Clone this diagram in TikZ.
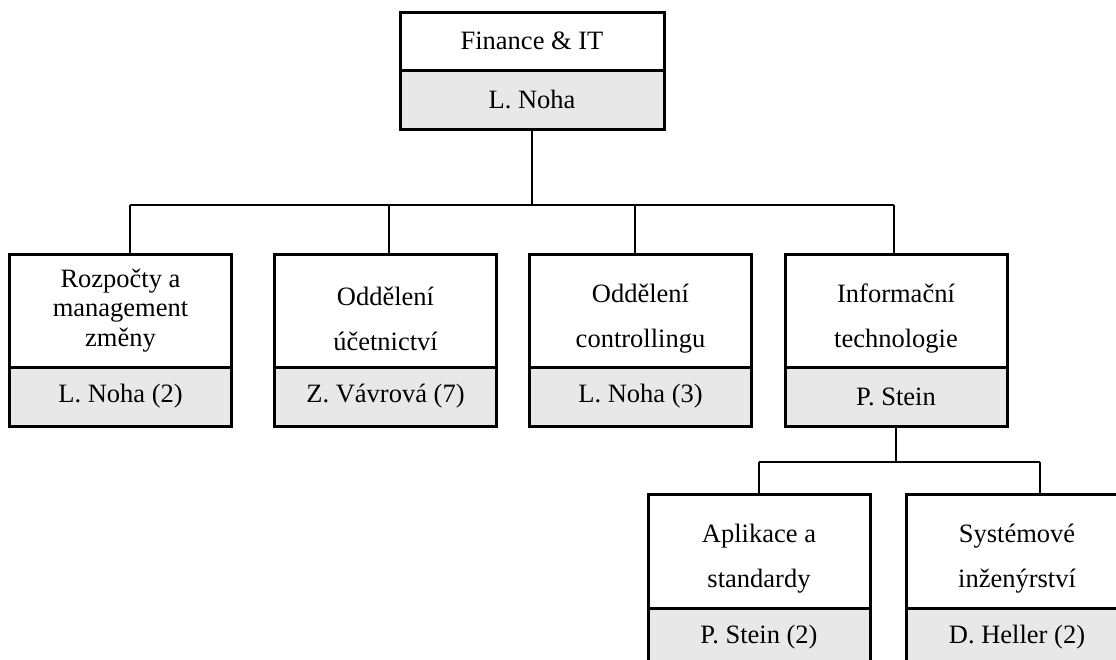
\documentclass[tikz,border=0pt]{standalone}
\usepackage{fontspec}
\setmainfont{Liberation Serif}
\definecolor{namefill}{RGB}{232,232,232}
\begin{document}
\begin{tikzpicture}[x=1pt,y=-1pt,
  boxline/.style={draw=black, line width=3pt, inner sep=0pt, outer sep=0pt},
  headbox/.style={boxline, fill=white, minimum width=222pt},
  namebox/.style={boxline, fill=namefill, minimum width=222pt, minimum height=59pt,
    font=\fontsize{26.5}{30}\selectfont},
  onetext/.style={inner sep=0pt, align=center, font=\fontsize{26.5}{30}\selectfont},
  threetext/.style={inner sep=0pt, align=center, font=\fontsize{26.5}{29.5}\selectfont},
  twotext/.style={inner sep=0pt, align=center, font=\fontsize{26.5}{45}\selectfont},
  link/.style={draw=black, line width=1.7pt}]
\useasboundingbox (0,0) rectangle (1116,659);
\clip (0,0) rectangle (1116,659);

% ---- branch points of the connector buses ----
\coordinate (busL) at (130,205);
\coordinate (d2) at (389,205);
\coordinate (d3) at (635,205);
\coordinate (busR) at (894,205);
\coordinate (subL) at (759,462);
\coordinate (subR) at (1040,462);

% ---- top box ----
\node[headbox, minimum width=264pt, minimum height=58pt] (th) at (532,41) {};
\node[onetext] (tht) at (th.center) {Finance \& IT};
\node[namebox, minimum width=264pt, anchor=north] (tn) at (th.south) {L. Noha};

% ---- second level ----
\node[headbox, minimum height=113pt] (h1) at (120.5,310.5) {};
\node[threetext] (h1t) at (h1.center) {Rozpočty a\\management\\změny};
\node[namebox, anchor=north] (n1) at (h1.south) {L. Noha (2)};

\node[headbox, minimum height=113pt] (h2) at (385.5,310.5) {};
\node[twotext] (h2t) at ([yshift=-8pt]h2.center) {Oddělení\\účetnictví};
\node[namebox, anchor=north] (n2) at (h2.south) {Z. Vávrová (7)};

\node[headbox, minimum height=113pt] (h3) at (640.5,310.5) {};
\node[twotext] (h3t) at ([yshift=-8pt]h3.center) {Oddělení\\controllingu};
\node[namebox, anchor=north] (n3) at (h3.south) {L. Noha (3)};

\node[headbox, minimum height=113pt] (h4) at (896,310.5) {};
\node[twotext] (h4t) at ([yshift=-8pt]h4.center) {Informační\\technologie};
\node[namebox, anchor=north] (n4) at (h4.south) {P. Stein};

% ---- third level ----
\node[headbox, minimum height=114pt] (h5) at (759,551) {};
\node[twotext] (h5t) at ([yshift=-8pt]h5.center) {Aplikace a\\standardy};
\node[namebox, anchor=north] (n5) at (h5.south) {P. Stein (2)};

\node[headbox, minimum height=114pt] (h6) at (1017,551) {};
\node[twotext] (h6t) at ([yshift=-8pt]h6.center) {Systémové\\inženýrství};
\node[namebox, anchor=north] (n6) at (h6.south) {D. Heller (2)};

% ---- connector lines ----
\draw[link] (tn.south) -- (tn.south |- busL);
\draw[link] (busL) -- (busR);
\draw[link] (busL) -- (busL |- h1.north);
\draw[link] (d2) -- (d2 |- h2.north);
\draw[link] (d3) -- (d3 |- h3.north);
\draw[link] (busR) -- (busR |- h4.north);
\draw[link] (n4.south) -- (n4.south |- subL);
\draw[link] (subL) -- (subR);
\draw[link] (subL) -- (subL |- h5.north);
\draw[link] (subR) -- (subR |- h6.north);
\end{tikzpicture}
\end{document}
